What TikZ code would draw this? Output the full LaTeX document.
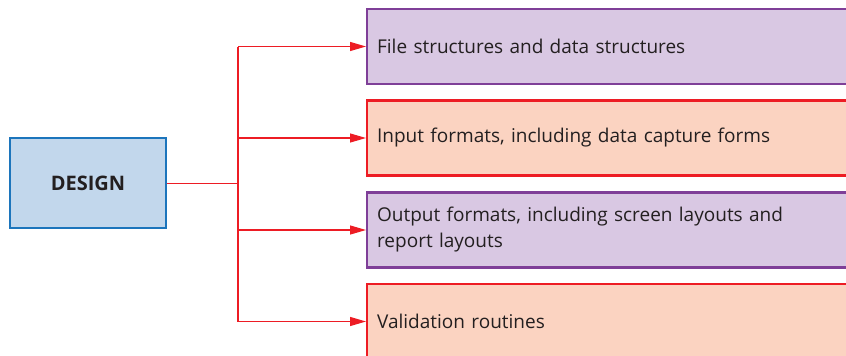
\documentclass[tikz,border=0pt]{standalone}
\usepackage{fontspec}
\setmainfont{Open Sans}
\usetikzlibrary{arrows.meta}
\definecolor{purpfill}{HTML}{D9C8E3}
\definecolor{purpline}{HTML}{7F3F98}
\definecolor{salfill}{HTML}{FBD3C1}
\definecolor{redline}{HTML}{ED1C24}
\definecolor{bluefill}{HTML}{C2D7EC}
\definecolor{blueline}{HTML}{1C75BC}
\definecolor{txt}{HTML}{231F20}
\tikzset{
  itembox/.style={draw, line width=2.2pt, minimum width=490pt, minimum height=75pt,
    text width=470pt, align=left, inner xsep=8pt, anchor=west, text=txt,
    font=\fontsize{19}{26}\selectfont},
  purp/.style={itembox, fill=purpfill, draw=purpline},
  sal/.style={itembox, fill=salfill, draw=redline},
  design/.style={draw=blueline, fill=bluefill, line width=2.2pt, minimum width=156pt,
    minimum height=90pt, text=txt, font=\fontsize{20}{22}\selectfont\bfseries},
  conn/.style={draw=redline, line width=1.2pt},
  arr/.style={conn, -{Triangle[length=16pt,width=9pt]}}
}
\begin{document}
\begin{tikzpicture}[x=1pt,y=-1pt]
\useasboundingbox (0,0) rectangle (846,356);
\clip (0,0) rectangle (846,356);
\node[design] (d) at (88,183) {DESIGN};
\node[purp] (b1) at (366,46.5) {File structures and data structures};
\node[sal] (b2) at (366,138) {Input formats, including data capture forms};
\node[purp] (b3) at (366,230) {Output formats, including screen layouts and\\report layouts};
\node[sal] (b4) at (366,321.5) {Validation routines};
\coordinate (j) at (238,183.5);
\coordinate (t) at (238,46.5);
\coordinate (bt) at (238,321.5);
\draw[conn] (d.east |- j) -- (j);
\draw[conn] (t) -- (bt);
\draw[arr] (t) -- (b1.west);
\draw[arr] (t |- b2.west) -- (b2.west);
\draw[arr] (t |- b3.west) -- (b3.west);
\draw[arr] (bt) -- (b4.west);
\end{tikzpicture}
\end{document}
